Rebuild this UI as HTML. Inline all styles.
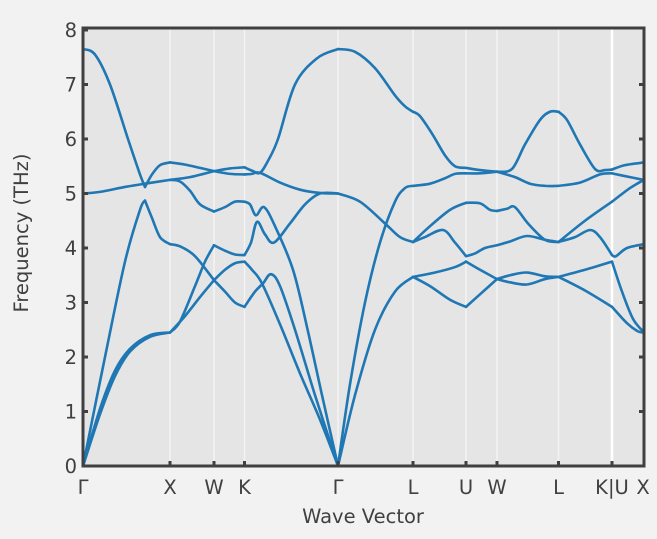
<!DOCTYPE html>
<html><head><meta charset="utf-8"><style>
html,body{margin:0;padding:0;background:#f2f2f2;}
svg{display:block;font-family:"DejaVu Sans","Liberation Sans",sans-serif;}
</style></head><body>
<svg id="s" width="657" height="539" viewBox="0 0 657 539" xmlns="http://www.w3.org/2000/svg">
<rect x="0" y="0" width="657" height="539" fill="#f2f2f2"/>
<rect x="83" y="28" width="561" height="438" fill="#e5e5e5"/>
<g stroke="#f4f4f4" stroke-width="1.5">
<line x1="170" y1="28" x2="170" y2="466"/><line x1="214" y1="28" x2="214" y2="466"/>
<line x1="244.5" y1="28" x2="244.5" y2="466"/><line x1="338" y1="28" x2="338" y2="466"/>
<line x1="413" y1="28" x2="413" y2="466"/><line x1="466" y1="28" x2="466" y2="466"/>
<line x1="497" y1="28" x2="497" y2="466"/><line x1="558.5" y1="28" x2="558.5" y2="466"/>
</g>
<line x1="612" y1="28" x2="612" y2="466" stroke="#ffffff" stroke-width="2.5"/>
<g id="bands" fill="none" stroke="#1f77b4" stroke-width="2.6" stroke-linejoin="round" stroke-linecap="round"></g>
<g stroke="#404040" stroke-width="3" fill="none">
<rect x="83" y="28" width="561" height="438"/>
</g>
<g stroke="#404040" stroke-width="3">
<line x1="83" y1="84.5" x2="88" y2="84.5"/><line x1="83" y1="139" x2="88" y2="139"/>
<line x1="83" y1="193.5" x2="88" y2="193.5"/><line x1="83" y1="248" x2="88" y2="248"/>
<line x1="83" y1="302.5" x2="88" y2="302.5"/><line x1="83" y1="357" x2="88" y2="357"/>
<line x1="83" y1="411.5" x2="88" y2="411.5"/><line x1="83" y1="30" x2="88" y2="30"/>
<line x1="644" y1="84.5" x2="639" y2="84.5"/><line x1="644" y1="139" x2="639" y2="139"/>
<line x1="644" y1="193.5" x2="639" y2="193.5"/><line x1="644" y1="248" x2="639" y2="248"/>
<line x1="644" y1="302.5" x2="639" y2="302.5"/><line x1="644" y1="357" x2="639" y2="357"/>
<line x1="644" y1="411.5" x2="639" y2="411.5"/>
<line x1="170" y1="466" x2="170" y2="461"/><line x1="214" y1="466" x2="214" y2="461"/>
<line x1="244.5" y1="466" x2="244.5" y2="461"/><line x1="338" y1="466" x2="338" y2="461"/>
<line x1="413" y1="466" x2="413" y2="461"/><line x1="466" y1="466" x2="466" y2="461"/>
<line x1="497" y1="466" x2="497" y2="461"/><line x1="558.5" y1="466" x2="558.5" y2="461"/>
<line x1="612" y1="466" x2="612" y2="461"/>
</g>
<g fill="#404040" font-size="19.5" text-anchor="end">
<text x="77" y="37">8</text><text x="77" y="91.5">7</text><text x="77" y="146">6</text>
<text x="77" y="200.5">5</text><text x="77" y="255">4</text><text x="77" y="309.5">3</text>
<text x="77" y="364">2</text><text x="77" y="418.5">1</text><text x="77" y="473">0</text>
</g>
<g fill="#404040" font-size="19.5" text-anchor="middle">
<text x="83" y="494">Γ</text><text x="170" y="494">X</text><text x="214" y="494">W</text>
<text x="244.5" y="494">K</text><text x="338" y="494">Γ</text><text x="413" y="494">L</text>
<text x="466" y="494">U</text><text x="497" y="494">W</text><text x="558.5" y="494">L</text>
<text x="612" y="494">K|U</text><text x="643" y="494">X</text>
<text x="363" y="523">Wave Vector</text>
<text transform="translate(28,233) rotate(-90)">Frequency (THz)</text>
</g>
</svg>
<script>
var C=[
[[83,7.65],[95,7.55],[110,7.0],[128,6.0],[140,5.35],[145,5.12]],
[[145,5.12],[152,5.35],[160,5.52],[170,5.57]],
[[83,5.0],[100,5.03],[125,5.12],[145,5.18],[170,5.25]],
[[83,0],[105,2.0],[125,3.75],[140,4.7],[145,4.87]],
[[145,4.87],[152,4.55],[160,4.2],[170,4.07]],
[[83,0],[100,0.95],[115,1.65],[130,2.1],[150,2.37],[170,2.45]],
[[83,0],[100,1.05],[115,1.75],[130,2.15],[150,2.4],[170,2.45]],
[[170,5.57],[185,5.53],[200,5.47],[214,5.41]],
[[170,5.25],[190,5.3],[214,5.41]],
[[170,5.25],[180,5.22],[190,5.05],[200,4.8],[214,4.67]],
[[170,4.07],[180,4.03],[195,3.85],[214,3.41]],
[[170,2.45],[180,2.65],[195,3.3],[205,3.75],[214,4.05]],
[[170,2.45],[185,2.75],[200,3.1],[214,3.41]],
[[214,5.41],[230,5.46],[244.5,5.48]],
[[214,5.41],[230,5.36],[244.5,5.35]],
[[214,4.67],[225,4.75],[235,4.85],[244.5,4.85]],
[[214,4.05],[225,3.95],[235,3.88],[244.5,3.87]],
[[214,3.41],[225,3.6],[235,3.72],[244.5,3.75]],
[[214,3.41],[225,3.2],[235,3.0],[244.5,2.92]],
[[244.5,5.48],[252,5.42],[260,5.38],[268,5.6],[278,6.0],[295,7.0],[317,7.48],[338,7.65]],
[[244.5,5.35],[252,5.36],[260,5.38],[280,5.2],[300,5.07],[320,5.01],[338,5.0]],
[[244.5,4.85],[250,4.8],[256,4.6],[264,4.75],[275,4.4],[293,3.6],[307,2.55],[322,1.3],[338,0]],
[[244.5,3.87],[251,4.1],[257,4.48],[265,4.25],[274,4.1],[290,4.45],[305,4.8],[320,5.0],[338,5.0]],
[[244.5,3.75],[252,3.6],[262,3.35],[280,2.6],[300,1.7],[320,0.85],[338,0]],
[[244.5,2.92],[255,3.2],[263,3.35],[271,3.52],[280,3.3],[295,2.5],[315,1.3],[338,0]],
[[338,7.65],[355,7.6],[375,7.3],[395,6.8],[405,6.6],[413,6.5]],
[[338,0],[350,1.5],[365,3.0],[380,4.1],[395,4.85],[405,5.1],[413,5.14]],
[[338,0],[355,1.3],[375,2.5],[395,3.2],[413,3.47]],
[[338,5.0],[360,4.85],[385,4.45],[400,4.2],[413,4.11]],
[[413,6.5],[420,6.42],[432,6.1],[445,5.7],[455,5.5],[466,5.47]],
[[413,5.14],[430,5.18],[445,5.28],[455,5.36],[466,5.37]],
[[413,4.11],[430,4.4],[450,4.7],[466,4.83]],
[[413,4.11],[425,4.2],[443,4.33],[455,4.1],[466,3.85]],
[[413,3.47],[435,3.55],[455,3.65],[466,3.75]],
[[413,3.47],[430,3.3],[450,3.05],[466,2.92]],
[[466,5.47],[480,5.43],[497,5.4]],
[[466,5.37],[480,5.37],[497,5.4]],
[[466,4.83],[480,4.82],[490,4.7],[497,4.68]],
[[466,3.85],[475,3.9],[485,4.0],[497,4.05]],
[[466,3.75],[480,3.6],[497,3.43]],
[[466,2.92],[480,3.15],[497,3.43]],
[[497,5.4],[512,5.45],[525,5.9],[540,6.35],[550,6.5],[558.5,6.5]],
[[497,5.4],[515,5.3],[530,5.18],[545,5.14],[558.5,5.14]],
[[497,4.68],[507,4.72],[515,4.75],[528,4.45],[545,4.15],[558.5,4.11]],
[[497,4.05],[510,4.12],[527,4.22],[545,4.15],[558.5,4.11]],
[[497,3.43],[510,3.5],[527,3.55],[545,3.48],[558.5,3.47]],
[[497,3.43],[510,3.37],[527,3.33],[545,3.43],[558.5,3.47]],
[[558.5,6.5],[567,6.35],[580,5.9],[595,5.45],[605,5.43],[612,5.44]],
[[558.5,5.14],[580,5.2],[600,5.35],[612,5.37]],
[[558.5,4.11],[585,4.5],[612,4.85]],
[[558.5,4.11],[575,4.2],[590,4.33],[600,4.2],[612,3.87]],
[[558.5,3.47],[585,3.6],[612,3.75]],
[[558.5,3.47],[585,3.22],[612,2.92]],
[[612,5.44],[625,5.52],[644,5.57]],
[[612,5.37],[630,5.3],[644,5.25]],
[[612,4.85],[630,5.1],[644,5.25]],
[[612,3.87],[616,3.85],[627,4.0],[644,4.07]],
[[612,3.75],[622,3.2],[633,2.7],[644,2.45]],
[[612,2.92],[627,2.62],[638,2.47],[644,2.45]]
];
var g=document.getElementById('bands'),ns='http://www.w3.org/2000/svg';
function Y(v){return 466-54.5*v;}
C.forEach(function(c){
 var p=c.map(function(q){return [q[0],Y(q[1])];});
 var d='M'+p[0][0]+','+p[0][1];
 for(var i=0;i<p.length-1;i++){
  var p0=p[i-1]||p[i],p1=p[i],p2=p[i+1],p3=p[i+2]||p[i+1];
  var c1x=p1[0]+(p2[0]-p0[0])/6,c1y=p1[1]+(p2[1]-p0[1])/6;
  var c2x=p2[0]-(p3[0]-p1[0])/6,c2y=p2[1]-(p3[1]-p1[1])/6;
  d+=' C'+c1x.toFixed(2)+','+c1y.toFixed(2)+' '+c2x.toFixed(2)+','+c2y.toFixed(2)+' '+p2[0]+','+p2[1].toFixed(2);
 }
 var e=document.createElementNS(ns,'path');e.setAttribute('d',d);g.appendChild(e);
});
</script>
</body></html>
